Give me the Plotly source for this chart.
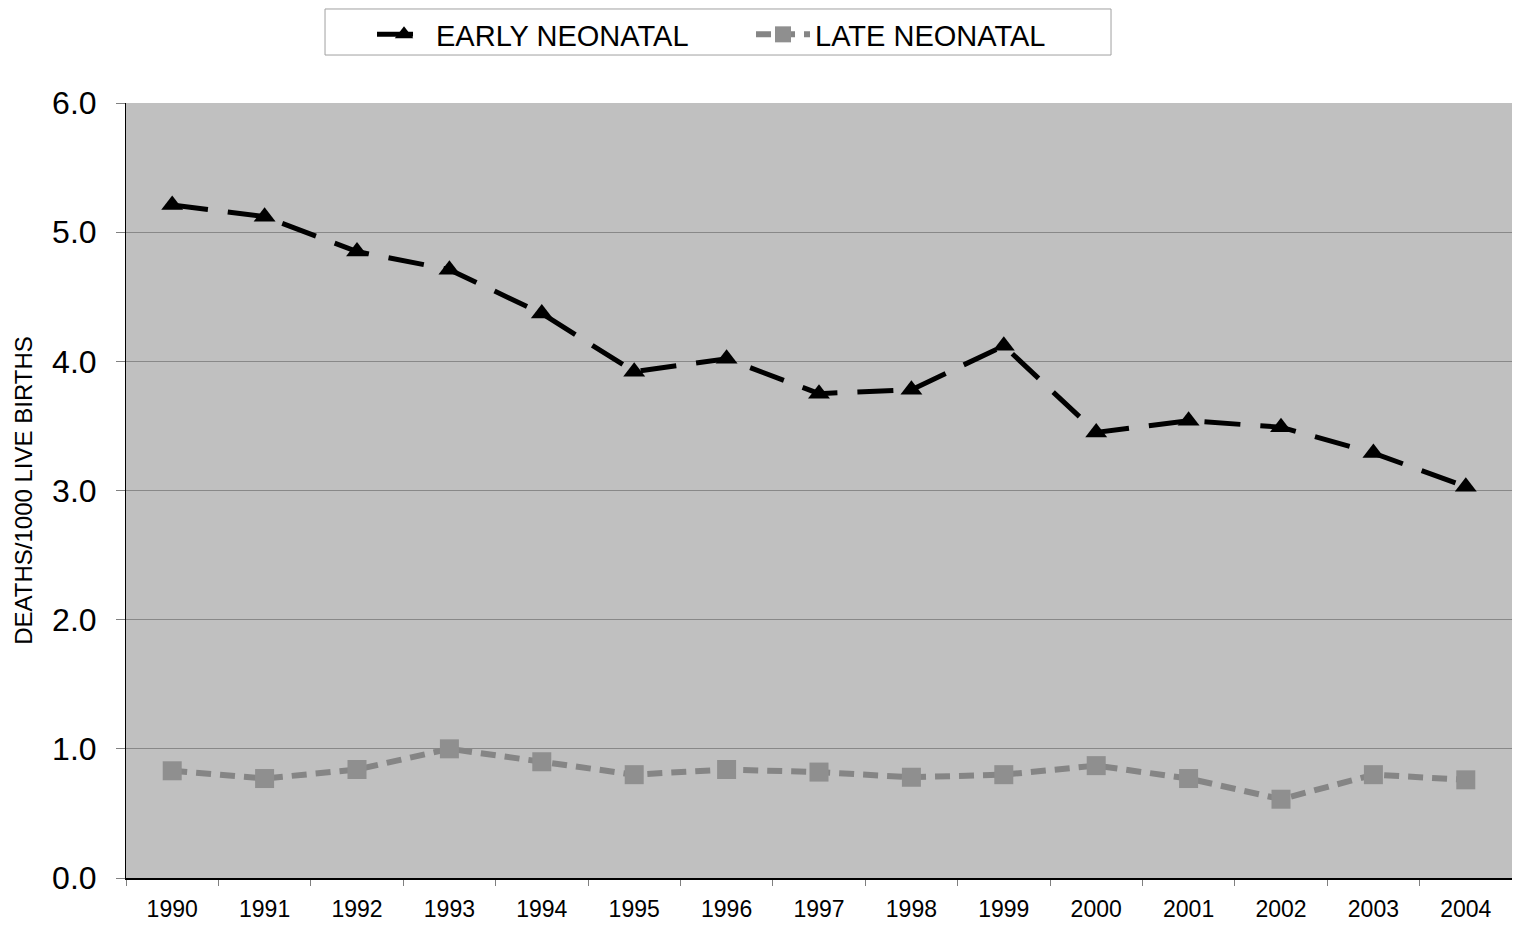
import plotly.graph_objects as go

years = [str(y) for y in range(1990, 2005)]
early = [5.21, 5.12, 4.85, 4.71, 4.37, 3.92, 4.02, 3.75, 3.78, 4.12, 3.45, 3.54, 3.49, 3.29, 3.03]
late = [0.83, 0.77, 0.84, 1.00, 0.90, 0.80, 0.84, 0.82, 0.78, 0.80, 0.87, 0.77, 0.61, 0.80, 0.76]
yticks = [0, 1, 2, 3, 4, 5, 6]

fig = go.Figure()
fig.add_trace(go.Scatter(
    x=years, y=early, name="EARLY NEONATAL", mode="lines+markers",
    line=dict(color="black", width=5, dash="36px,20px"),
    marker=dict(symbol="triangle-up", size=19, color="black"),
))
fig.add_trace(go.Scatter(
    x=years, y=late, name="LATE NEONATAL", mode="lines+markers",
    line=dict(color="#858585", width=6, dash="15px,9px"),
    marker=dict(symbol="square", size=19, color="#8f8f8f"),
))

# legend frame
fig.add_shape(type="rect", xref="paper", yref="paper",
              x0=0.1436, x1=0.7107, y0=1.0619, y1=1.1213,
              line=dict(color="#a0a0a0", width=1), fillcolor="rgba(0,0,0,0)")

fig.update_layout(
    width=1504, height=915,
    margin=dict(l=118, r=0, t=95, b=45),
    paper_bgcolor="white", plot_bgcolor="#c0c0c0",
    font=dict(family="Liberation Sans, Arial", color="black"),
    showlegend=True,
    legend=dict(
        orientation="h", x=0.1775, xanchor="left", y=1.1213, yanchor="top",
        borderwidth=0, font=dict(size=29), bgcolor="rgba(0,0,0,0)",
        entrywidth=310, itemwidth=54,
    ),
    xaxis=dict(
        type="category", showgrid=False, tickson="boundaries",
        ticks="outside", ticklen=6, tickcolor="#808080",
        showline=True, linecolor="black", linewidth=2,
        tickfont=dict(size=23), range=[-0.5, 14.5],
        ticklabelstandoff=9, automargin=False,
    ),
    yaxis=dict(
        range=[0, 6], tickvals=yticks, tickformat=".1f",
        showgrid=True, gridcolor="#888888", gridwidth=1,
        ticks="outside", ticklen=9, tickcolor="#808080",
        showline=True, linecolor="black", linewidth=1,
        tickfont=dict(size=32), zeroline=False, ticklabelstandoff=13,
        title=dict(text="DEATHS/1000 LIVE BIRTHS", font=dict(size=24), standoff=12),
    ),
)

fig.write_html("out.html")
